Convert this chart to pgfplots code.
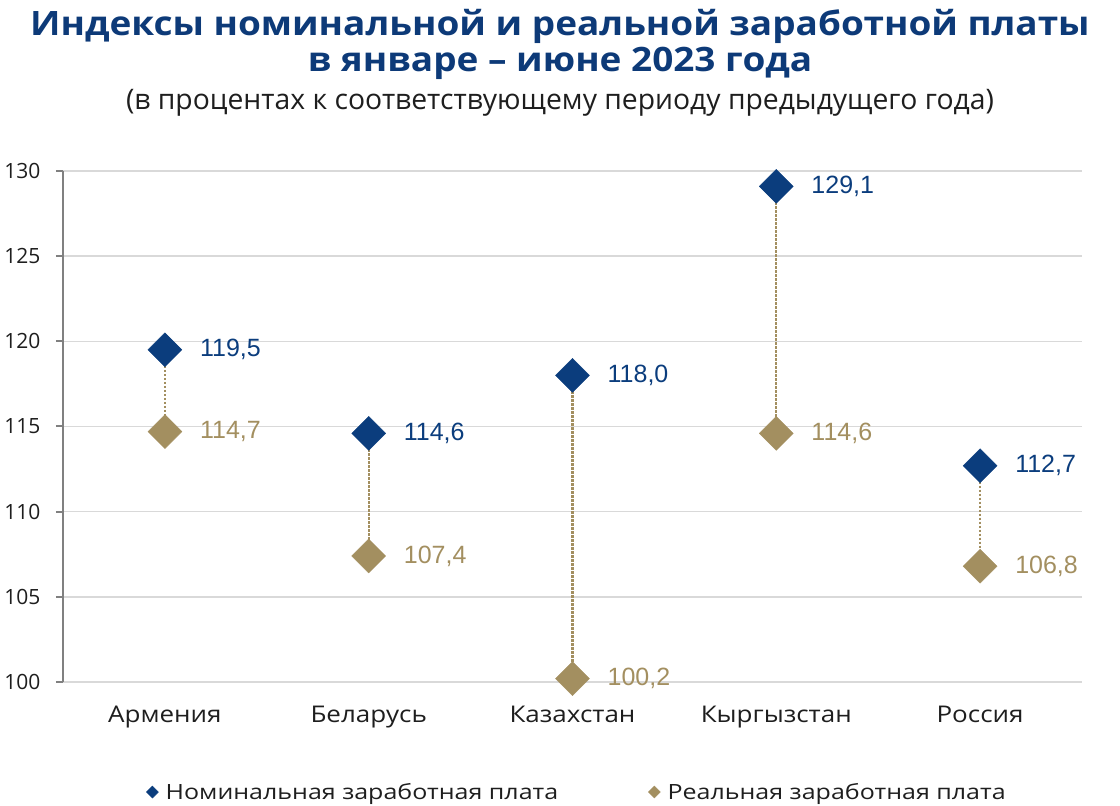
\documentclass[border=0pt]{standalone}
\usepackage{fontspec}
\setmainfont{Open Sans}
\newfontfamily\titlefont{Open Sans}[FakeStretch=1.10]
\newfontfamily\widefont{Open Sans}[FakeStretch=1.13]
\newfontfamily\legfont{Open Sans}[FakeStretch=1.19]
\newfontfamily\arialfont{Liberation Sans}
\usepackage{pgfplots}
\pgfplotsset{compat=1.18}
\definecolor{navy}{RGB}{11,61,125}
\definecolor{titlec}{RGB}{13,58,120}
\definecolor{gold}{RGB}{163,143,96}
\definecolor{gridc}{RGB}{217,217,217}
\definecolor{axisc}{RGB}{128,128,128}
\definecolor{txt}{RGB}{30,30,30}
\begin{document}
\begin{tikzpicture}
\useasboundingbox (-63pt,-124pt) rectangle (1057pt,682pt);
\node[anchor=base, text=titlec, font=\titlefont\fontsize{33.6}{34}\selectfont\bfseries] at (497pt,646pt) {Индексы номинальной и реальной заработной платы};
\node[anchor=base, text=titlec, font=\titlefont\fontsize{33.6}{34}\selectfont\bfseries] at (497pt,610pt) {в январе – июне 2023 года};
\node[anchor=base, text=txt, font=\fontsize{28.3}{28}\selectfont] at (497pt,572pt) {(в процентах к соответствующему периоду предыдущего года)};
\begin{axis}[
  at={(0pt,0pt)}, anchor=south west,
  scale only axis, width=1019pt, height=511pt,
  xmin=-0.5, xmax=4.5, ymin=100, ymax=130,
  xtick={0,1,2,3,4},
  xticklabels={Армения,Беларусь,Казахстан,Кыргызстан,Россия},
  ytick={100,105,110,115,120,125,130},
  /pgf/number format/assume math mode=true,
  axis lines*=left,
  x axis line style={gridc, line width=1.5pt},
  y axis line style={axisc, line width=2pt},
  xtick style={draw=none},
  ytick style={axisc, line width=2pt},
  tick align=outside, major tick length=7pt,
  ymajorgrids, grid style={gridc, line width=1.5pt},
  yticklabel style={font=\fontsize{21}{21}\selectfont, text=txt, xshift=-12pt},
  xticklabel style={font=\widefont\fontsize{23}{23}\selectfont, text=txt, anchor=base, yshift=-33pt},
  clip=false,
  legend style={at={(0.5044,-0.2153)}, anchor=center, draw=none, fill=none,
    legend columns=2, font=\legfont\fontsize{21}{21}\selectfont, text=txt,
    /tikz/every even column/.append style={column sep=88pt}},
  legend cell align=left,
]
\addplot[gold, line width=2.2pt, dash pattern=on 2.2pt off 1.8pt, forget plot] coordinates {(0,119.5) (0,114.7)};
\addplot[gold, line width=2.2pt, dash pattern=on 2.2pt off 1.8pt, forget plot] coordinates {(1,114.6) (1,107.4)};
\addplot[gold, line width=2.2pt, dash pattern=on 2.2pt off 1.8pt, forget plot] coordinates {(2,118.0) (2,100.2)};
\addplot[gold, line width=2.2pt, dash pattern=on 2.2pt off 1.8pt, forget plot] coordinates {(3,129.1) (3,114.6)};
\addplot[gold, line width=2.2pt, dash pattern=on 2.2pt off 1.8pt, forget plot] coordinates {(4,112.7) (4,106.8)};
\addplot[only marks, mark=square*, mark size=12pt, mark options={rotate=45, fill=navy, draw=navy},
  nodes near coords={\pgfmathprintnumber[fixed,fixed zerofill,precision=1,use comma]{\pgfplotspointmeta}},
  nodes near coords style={anchor=west, inner sep=0pt, xshift=35pt, text=navy, font=\arialfont\fontsize{25}{25}\selectfont},
  forget plot]
  coordinates {(0,119.5) (1,114.6) (2,118.0) (3,129.1) (4,112.7)};
\addplot[only marks, mark=square*, mark size=12pt, mark options={rotate=45, fill=gold, draw=gold},
  nodes near coords={\pgfmathprintnumber[fixed,fixed zerofill,precision=1,use comma]{\pgfplotspointmeta}},
  nodes near coords style={anchor=west, inner sep=0pt, xshift=35pt, text=gold, font=\arialfont\fontsize{25}{25}\selectfont},
  forget plot]
  coordinates {(0,114.7) (1,107.4) (2,100.2) (3,114.6) (4,106.8)};
\addlegendimage{legend image code/.code={\fill[navy] (0pt,-6pt) -- (6pt,0pt) -- (0pt,6pt) -- (-6pt,0pt) -- cycle; \path (11pt,0pt);}}
\addlegendentry{Номинальная заработная плата}
\addlegendimage{legend image code/.code={\fill[gold] (0pt,-6pt) -- (6pt,0pt) -- (0pt,6pt) -- (-6pt,0pt) -- cycle; \path (11pt,0pt);}}
\addlegendentry{Реальная заработная плата}
\end{axis}
\end{tikzpicture}
\end{document}
